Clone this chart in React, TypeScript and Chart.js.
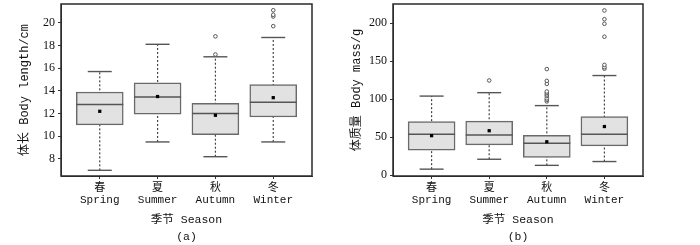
import React, { useEffect, useRef } from "react";
import { Chart, registerables } from "chart.js";

Chart.register(...registerables);

const seasonsCn = ["春", "夏", "秋", "冬"];
const seasonsEn = ["Spring", "Summer", "Autumn", "Winter"];

// (a) Body length / cm
const lenLow = [7.0, 9.5, 8.2, 9.5];
const lenQ1 = [11.0, 11.95, 10.15, 11.7];
const lenMedian = [12.8, 13.45, 12.0, 13.0];
const lenQ3 = [13.9, 14.7, 12.9, 14.55];
const lenHigh = [15.7, 18.1, 17.0, 18.7];
const lenMean = [12.2, 13.5, 11.85, 13.4];
const lenOutliers = [[], [], [17.2, 18.8], [19.7, 20.55, 20.7, 21.1]];

// (b) Body mass / g
const massLow = [8, 21, 13, 18];
const massQ1 = [33, 40, 23.5, 38.5];
const massMedian = [54, 53, 42, 54];
const massQ3 = [70.5, 71, 52.5, 77];
const massHigh = [104, 108.5, 91.5, 131];
const massMean = [52, 58.5, 44, 64];
const massOutliers = [
  [],
  [124.5],
  [97, 99, 101, 104, 106, 108, 110, 120, 124, 139.5],
  [140, 142, 145, 182, 199, 205, 216.5],
];

const MONO = "'Liberation Mono', 'Noto Sans CJK SC', monospace";

const framePlugin = {
  id: "frame",
  afterDatasetsDraw(chart: any) {
    const { ctx, chartArea } = chart;
    ctx.save();
    ctx.strokeStyle = "#2a2a2a";
    ctx.lineWidth = 1.5;
    ctx.strokeRect(chartArea.left, chartArea.top, chartArea.right - chartArea.left, chartArea.bottom - chartArea.top);
    ctx.restore();
  },
};

function buildConfig(opts: {
  low: number[]; q1: number[]; median: number[]; q3: number[]; high: number[]; mean: number[]; outliers: number[][];
  yMin: number; yMax: number; yStep: number; yTitle: string; sub: string; yWidth: number; titlePad: number; rightPad: number;
}) {
  const idx = [0, 1, 2, 3];
  const whiskers = idx.map((i) => ({
    type: "line" as const,
    data: [{ x: i, y: opts.low[i] }, { x: i, y: opts.high[i] }],
    borderColor: "#444",
    borderWidth: 1.2,
    borderDash: [2, 2],
    pointRadius: 0,
    order: 6,
  }));
  const datasets: any[] = [
    ...whiskers,
    {
      type: "bar",
      data: idx.map((i) => ({ x: i, y: [opts.q1[i], opts.q3[i]] })),
      backgroundColor: "#e2e2e2",
      borderColor: "#6a6a6a",
      borderWidth: 1.5,
      borderSkipped: false,
      barThickness: 47,
      order: 5,
    },
    {
      type: "scatter",
      data: idx.map((i) => ({ x: i, y: opts.median[i] })),
      pointStyle: "line",
      radius: 23.5,
      borderColor: "#555",
      borderWidth: 1.5,
      order: 2,
    },
    {
      type: "scatter",
      data: [...idx.map((i) => ({ x: i, y: opts.low[i] })), ...idx.map((i) => ({ x: i, y: opts.high[i] }))],
      pointStyle: "line",
      radius: 12,
      borderColor: "#555",
      borderWidth: 1.4,
      order: 2,
    },
    {
      type: "scatter",
      data: idx.map((i) => ({ x: i, y: opts.mean[i] })),
      pointStyle: "rect",
      radius: 2.3,
      backgroundColor: "#000",
      borderColor: "#000",
      borderWidth: 0,
      order: 1,
    },
    {
      type: "scatter",
      data: idx.flatMap((i) => opts.outliers[i].map((v) => ({ x: i, y: v }))),
      pointStyle: "circle",
      radius: 1.8,
      backgroundColor: "#fff",
      borderColor: "#555",
      borderWidth: 1,
      order: 1,
    },
  ];
  return {
    type: "bar" as const,
    data: { datasets },
    plugins: [framePlugin],
    options: {
      animation: false,
      responsive: false,
      maintainAspectRatio: false,
      events: [],
      layout: { autoPadding: false, padding: { left: 0, right: opts.rightPad, top: 4, bottom: 0 } },
      plugins: { legend: { display: false }, tooltip: { enabled: false }, title: { display: false } },
      scales: {
        x: {
          type: "linear",
          offset: false,
          min: -0.67,
          max: 3.67,
          afterBuildTicks: (s: any) => { s.ticks = idx.map((v) => ({ value: v })); },
          afterFit: (s: any) => { s.height = 69; s.paddingLeft = 0; s.paddingRight = 0; },
          ticks: {
            callback: (v: any) => [seasonsCn[v], seasonsEn[v]],
            font: { family: MONO, size: 11, lineHeight: 1.1 },
            color: "#111",
            padding: 3,
            maxRotation: 0,
            autoSkip: false,
          },
          grid: { display: true, offset: false, drawOnChartArea: false, drawTicks: true, tickLength: 3, color: "#333" },
          border: { display: true, color: "#333" },
          title: {
            display: true,
            text: ["季节 Season", opts.sub],
            font: { family: MONO, size: 11.5, lineHeight: 1.48 },
            color: "#111",
            padding: { top: 0, bottom: 0 },
          },
        },
        y: {
          type: "linear",
          min: opts.yMin,
          max: opts.yMax,
          afterBuildTicks: (s: any) => {
            const t: any[] = [];
            const start = Math.ceil(opts.yMin / opts.yStep) * opts.yStep;
            for (let v = start; v <= opts.yMax + 1e-9; v += opts.yStep) t.push({ value: v });
            s.ticks = t;
          },
          afterFit: (s: any) => { s.width = opts.yWidth; s.paddingTop = 0; s.paddingBottom = 0; },
          ticks: {
            font: { family: "'Liberation Serif', serif", size: 12 },
            color: "#111",
            padding: 3,
          },
          grid: { display: true, drawOnChartArea: false, drawTicks: true, tickLength: 3, color: "#333" },
          border: { display: true, color: "#333" },
          title: {
            display: true,
            text: opts.yTitle,
            font: { family: MONO, size: 12, lineHeight: 1.2 },
            color: "#111",
            padding: { top: opts.titlePad, bottom: 0 },
          },
        },
      },
    },
  };
}

function BoxChart({ config, width, left }: { config: any; width: number; left: number }) {
  const ref = useRef<HTMLCanvasElement | null>(null);
  useEffect(() => {
    if (!ref.current) return;
    const chart = new Chart(ref.current, config);
    return () => chart.destroy();
  }, [config]);
  return (
    <canvas
      ref={ref}
      width={width}
      height={245}
      style={{ position: "absolute", left, top: 0, width, height: 245 }}
    />
  );
}

const configA = buildConfig({
  low: lenLow, q1: lenQ1, median: lenMedian, q3: lenQ3, high: lenHigh, mean: lenMean, outliers: lenOutliers,
  yMin: 6.5, yMax: 21.65, yStep: 2, yTitle: "体长 Body length/cm", sub: "(a)", yWidth: 61, titlePad: 17.8, rightPad: 33,
});
const configB = buildConfig({
  low: massLow, q1: massQ1, median: massMedian, q3: massQ3, high: massHigh, mean: massMean, outliers: massOutliers,
  yMin: -1, yMax: 225, yStep: 50, yTitle: "体质量 Body mass/g", sub: "(b)", yWidth: 48, titlePad: 4.5, rightPad: 57,
});

export default function App() {
  return (
    <div style={{ position: "absolute", left: 0, top: 0, width: 700, height: 245, background: "#fff", overflow: "hidden" }}>
      <BoxChart config={configA} width={345} left={0} />
      <BoxChart config={configB} width={355} left={345} />
    </div>
  );
}
